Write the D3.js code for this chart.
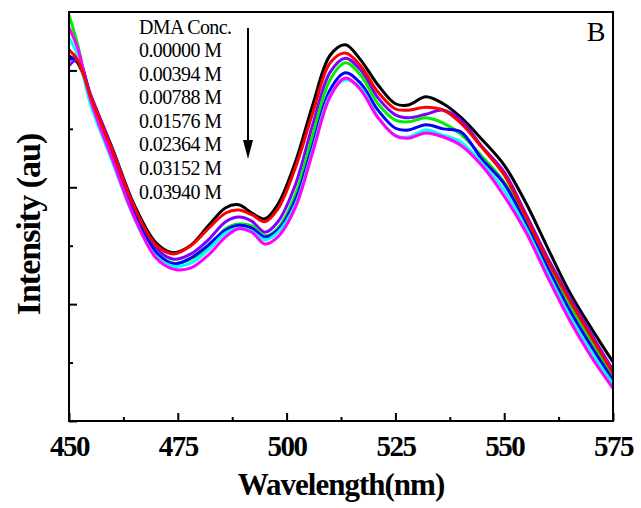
<!DOCTYPE html>
<html>
<head>
<meta charset="utf-8">
<script src="https://cdn.jsdelivr.net/npm/d3@7"></script>
<style>
  body { margin: 0; background: #fff; }
  svg { display: block; }
</style>
</head>
<body>
<script>
// chart size and plot box
var width = 641;
var height = 508;
var margin = {top: 12, right: 28, bottom: 87, left: 69};

// wavelength (nm)
var wavelengths = [450, 452, 455, 460, 465, 470, 474, 478, 482, 486, 489, 492, 495, 498, 502, 506,
                   510, 513.5, 517, 521, 525, 528, 532, 536, 540, 545, 550, 555, 560, 565, 570, 575];

// intensity (au) for each DMA concentration
var conc0000 = [625, 613, 556, 466, 370, 305, 288, 301, 334, 365, 370, 356, 346, 371, 443, 541,
                626, 644, 618, 575, 543, 541, 555, 543, 520, 481, 438, 373, 296, 221, 159, 101];
var conc0394 = [635, 618, 555, 462, 366, 301, 286, 300, 329, 356, 361, 353, 341, 363, 433, 527,
                613, 630, 608, 563, 534, 532, 537, 532, 510, 467, 421, 349, 274, 207, 144, 82];
var conc0788 = [608, 618, 558, 464, 366, 296, 277, 286, 310, 341, 349, 342, 323, 341, 404, 507,
                597, 621, 601, 553, 524, 519, 525, 532, 515, 469, 426, 354, 279, 212, 149, 87];
var conc1576 = [695, 644, 544, 447, 353, 289, 270, 277, 298, 329, 337, 334, 317, 330, 387, 489,
                584, 613, 592, 543, 515, 512, 519, 510, 491, 452, 409, 344, 269, 199, 137, 75];
var conc2364 = [618, 621, 553, 455, 358, 289, 269, 279, 301, 327, 335, 330, 315, 327, 378, 472,
                567, 596, 578, 532, 501, 498, 507, 500, 495, 447, 406, 337, 262, 190, 128, 70];
var conc3152 = [656, 626, 541, 443, 347, 282, 265, 270, 293, 322, 330, 325, 310, 323, 370, 464,
                558, 584, 570, 520, 489, 486, 498, 489, 478, 440, 395, 330, 253, 180, 118, 63];
var conc3940 = [673, 638, 549, 447, 349, 279, 260, 262, 284, 315, 329, 323, 303, 315, 365, 460,
                555, 587, 567, 519, 488, 484, 493, 486, 472, 436, 385, 323, 246, 173, 110, 56];

var seriesNames = ["0.00000 M", "0.00394 M", "0.00788 M", "0.01576 M", "0.02364 M", "0.03152 M", "0.03940 M"];
var seriesValues = [conc0000, conc0394, conc0788, conc1576, conc2364, conc3152, conc3940];
var seriesColors = ["#000000", "#ff0000", "#8000ff", "#00ee00", "#0000ff", "#00ffff", "#ff00ff"];
var drawOrder = [0, 2, 3, 4, 5, 6, 1];

var xTicksMajor = [450, 475, 500, 525, 550, 575];
var xTicksMinor = [462.5, 487.5, 512.5, 537.5, 562.5];
var yTicksMajor = [0, 200, 400, 600];
var yTicksMinor = [100, 300, 500];

var svg = d3.select("body")
            .append("svg")
            .attr("width", width)
            .attr("height", height);

var x = d3.scaleLinear()
          .domain([450, 575])
          .range([margin.left, width - margin.right]);

var y = d3.scaleLinear()
          .domain([0, 700])
          .range([height - margin.bottom, margin.top]);

var line = d3.line()
             .x(function(d) { return x(d[0]); })
             .y(function(d) { return y(d[1]); })
             .curve(d3.curveCatmullRom.alpha(0.5));

// clip the spectra to the plot box
svg.append("clipPath")
   .attr("id", "plotclip")
   .append("rect")
   .attr("x", margin.left)
   .attr("y", margin.top)
   .attr("width", x(575) - x(450))
   .attr("height", y(0) - y(700));

var curves = svg.append("g").attr("clip-path", "url(#plotclip)");

drawOrder.forEach(function(i) {
  var pts = wavelengths.map(function(w, j) { return [w, seriesValues[i][j]]; });
  curves.append("path")
        .attr("d", line(pts))
        .style("fill", "none")
        .style("stroke", seriesColors[i])
        .style("stroke-width", 3)
        .style("stroke-linejoin", "round");
});

// frame
svg.append("rect")
   .attr("x", x(450))
   .attr("y", y(700))
   .attr("width", x(575) - x(450))
   .attr("height", y(0) - y(700))
   .style("fill", "none")
   .style("stroke", "#000")
   .style("stroke-width", 2);

// x axis ticks (pointing inwards)
var xMajor = svg.append("g")
   .attr("transform", "translate(0," + y(0) + ")")
   .call(d3.axisBottom(x).tickValues(xTicksMajor).tickSize(-8).tickPadding(14)
           .tickFormat(d3.format("d")));
xMajor.select(".domain").remove();
xMajor.selectAll("line").style("stroke-width", 2);
xMajor.selectAll("text")
      .style("font-family", "'Liberation Serif', 'Times New Roman', serif")
      .style("font-weight", "bold")
      .style("font-size", "29px")
      .style("letter-spacing", "-1.5px")
      .attr("dy", "0.72em");

var xMinor = svg.append("g")
   .attr("transform", "translate(0," + y(0) + ")")
   .call(d3.axisBottom(x).tickValues(xTicksMinor).tickSize(-4).tickFormat(""));
xMinor.select(".domain").remove();
xMinor.selectAll("line").style("stroke-width", 2);

// y axis ticks, no labels
var yMajor = svg.append("g")
   .attr("transform", "translate(" + x(450) + ",0)")
   .call(d3.axisLeft(y).tickValues(yTicksMajor).tickSize(-8).tickFormat(""));
yMajor.select(".domain").remove();
yMajor.selectAll("line").style("stroke-width", 2);

var yMinor = svg.append("g")
   .attr("transform", "translate(" + x(450) + ",0)")
   .call(d3.axisLeft(y).tickValues(yTicksMinor).tickSize(-4).tickFormat(""));
yMinor.select(".domain").remove();
yMinor.selectAll("line").style("stroke-width", 2);

// axis titles
svg.append("text")
   .attr("x", (x(450) + x(575)) / 2)
   .attr("y", 495)
   .attr("text-anchor", "middle")
   .style("font-family", "'Liberation Serif', 'Times New Roman', serif")
   .style("font-weight", "bold")
   .style("font-size", "31px")
   .style("letter-spacing", "-1px")
   .text("Wavelength(nm)");

svg.append("text")
   .attr("transform", "translate(40," + ((y(0) + y(700)) / 2 + 8) + ") rotate(-90)")
   .attr("text-anchor", "middle")
   .style("font-family", "'Liberation Serif', 'Times New Roman', serif")
   .style("font-weight", "bold")
   .style("font-size", "34px")
   .style("letter-spacing", "-1px")
   .text("Intensity (au)");

// legend text
var legend = svg.append("g")
   .style("font-family", "'Liberation Serif', 'Times New Roman', serif")
   .style("font-size", "20px")
   .style("letter-spacing", "-0.6px");

legend.append("text")
      .attr("x", 139)
      .attr("y", 34)
      .text("DMA Conc.");

legend.selectAll("text.conc")
      .data(seriesNames)
      .enter()
      .append("text")
      .attr("class", "conc")
      .attr("x", 139)
      .attr("y", function(d, i) { return 57 + i * 23.6; })
      .text(function(d) { return d; });

// arrow
svg.append("line")
   .attr("x1", 248).attr("y1", 28)
   .attr("x2", 248).attr("y2", 142)
   .style("stroke", "#000")
   .style("stroke-width", 2);

svg.append("path")
   .attr("d", "M243,140 L253,140 L248,159 Z")
   .style("fill", "#000");

// panel letter
svg.append("text")
   .attr("x", 596)
   .attr("y", 41)
   .attr("text-anchor", "middle")
   .style("font-family", "'Liberation Serif', 'Times New Roman', serif")
   .style("font-size", "28px")
   .text("B");
</script>
</body>
</html>
